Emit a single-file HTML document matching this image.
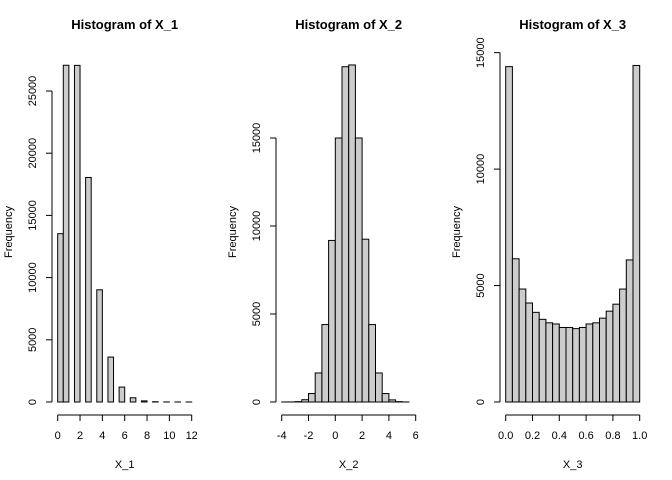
<!DOCTYPE html>
<html><head><meta charset="utf-8"><style>
body{margin:0;background:#fff}
svg{display:block;font-family:"Liberation Sans",Arial,sans-serif}
</style></head><body>
<svg id="c" width="672" height="480" viewBox="0 0 672 480"></svg>
<script>
const x1Breaks=[0,0.5,1,1.5,2,2.5,3,3.5,4,4.5,5,5.5,6,6.5,7,7.5,8,8.5,9,9.5,10,10.5,11,11.5,12];
const x1Counts=[13530,27070,0,27060,0,18050,0,9020,0,3610,0,1200,0,340,0,90,0,20,0,5,0,2,0,1];
const x2Counts=[1,3,20,130,480,1650,4400,9180,15000,19050,19150,15000,9250,4400,1650,480,120,20,3,0];
const x3Counts=[14400,6150,4850,4250,3850,3550,3400,3350,3200,3200,3150,3200,3350,3400,3600,3900,4200,4850,6100,14450];
const x1Ticks=[0,2,4,6,8,10,12];
const x2Ticks=[-4,-2,0,2,4,6];
const x3Ticks=[0,0.2,0.4,0.6,0.8,1.0];
const y1Ticks=[0,5000,10000,15000,20000,25000];
const y2Ticks=[0,5000,10000,15000];
const y3Ticks=[0,5000,10000,15000];

const svg=document.getElementById('c');
const NS='http://www.w3.org/2000/svg';
function mk(t,a,p){const e=document.createElementNS(NS,t);for(const k in a)e.setAttribute(k,a[k]);(p||svg).appendChild(e);return e;}

function panel(off,title,xlab,breaks,counts,xmin,xmax,xt,yt,yPerK,dec){
  const g=mk('g',{});
  
  
  const x0=off+57.7,x1=off+191.7,y0=402;
  const sx=v=>x0+(v-xmin)/(xmax-xmin)*(x1-x0);
  const sy=v=>y0-v*yPerK/1000;
  for(let i=0;i<counts.length;i++){
    const r=mk('rect',{x:sx(breaks[i]),y:sy(counts[i]),width:sx(breaks[i+1])-sx(breaks[i]),height:y0-sy(counts[i]),fill:'#cccccc',stroke:'#000','stroke-width':1},g);
    
    
  }
  // x axis
  const xa=mk('g',{},g);
  
  
  mk('line',{x1:sx(xt[0]),x2:sx(xt[xt.length-1]),y1:415,y2:415,stroke:'#000'},xa);
  xt.forEach(v=>{
    mk('line',{x1:sx(v),x2:sx(v),y1:415,y2:421,stroke:'#000'},xa);
    const t=mk('text',{x:sx(v),y:439,'font-size':11,'text-anchor':'middle'},xa);
    t.textContent=dec?v.toFixed(1):String(v);
    
    
  });
  // y axis
  const ya=mk('g',{},g);
  
  
  mk('line',{x1:off+52,x2:off+52,y1:sy(yt[0]),y2:sy(yt[yt.length-1]),stroke:'#000'},ya);
  yt.forEach(v=>{
    mk('line',{x1:off+46,x2:off+52,y1:sy(v),y2:sy(v),stroke:'#000'},ya);
    const t=mk('text',{x:off+36,y:sy(v),'font-size':11,'text-anchor':'middle',transform:`rotate(-90 ${off+36} ${sy(v)})`},ya);
    t.textContent=String(v);
    
    
  });
  const tt=mk('text',{x:off+124.7,y:29,'font-size':13,'font-weight':'bold','text-anchor':'middle'},g);
  tt.textContent=title;
  
  
  const xl=mk('text',{x:off+124.7,y:468,'font-size':11,'text-anchor':'middle'},g);
  xl.textContent=xlab;
  
  
  const yl=mk('text',{x:off+12,y:232,'font-size':11,'text-anchor':'middle',transform:`rotate(-90 ${off+12} 232)`},g);
  yl.textContent='Frequency';
  
  
}
const b2=[];for(let i=0;i<=20;i++)b2.push(-4+i*0.5);
const b3=[];for(let i=0;i<=20;i++)b3.push(i*0.05);
panel(0,'Histogram of X_1','X_1',x1Breaks,x1Counts,0,12,x1Ticks,y1Ticks,12.44,false);
panel(224,'Histogram of X_2','X_2',b2,x2Counts,-4,6,x2Ticks,y2Ticks,17.6,false);
panel(448,'Histogram of X_3','X_3',b3,x3Counts,0,1,x3Ticks,y3Ticks,23.29,true);
</script>
</body></html>
